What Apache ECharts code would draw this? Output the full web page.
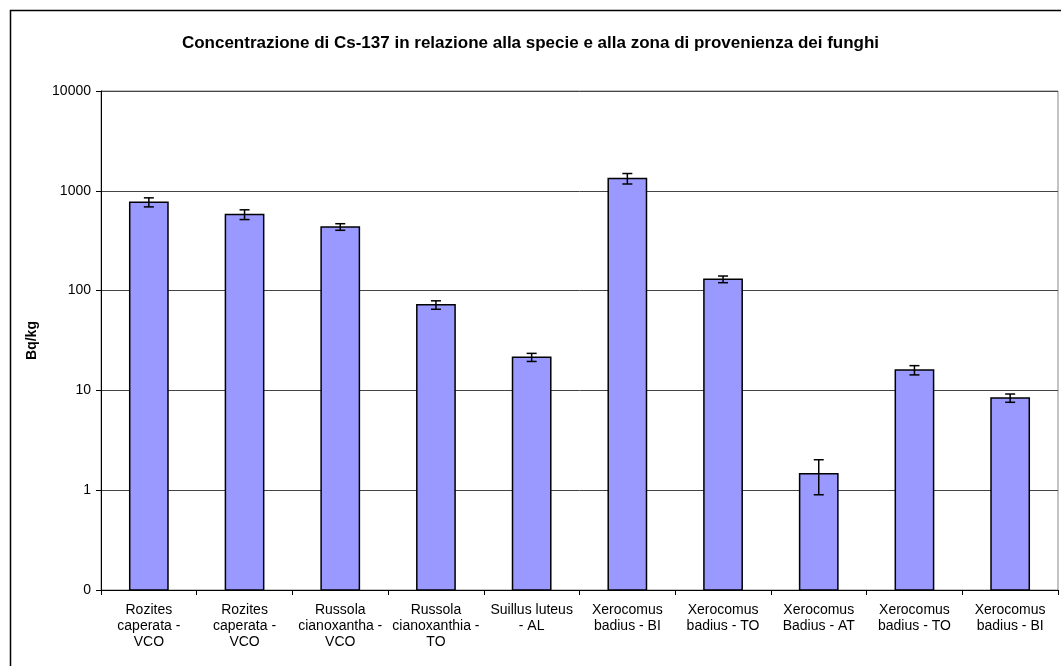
<!DOCTYPE html>
<html>
<head>
<meta charset="utf-8">
<script src="https://cdn.jsdelivr.net/npm/echarts@6/dist/echarts.min.js"></script>
<style>
  html, body { margin: 0; padding: 0; background: #fff; }
  #chart { width: 1061px; height: 666px; }
</style>
</head>
<body>
<div id="chart"></div>
<script>
// categorie (specie - zona)
var categories = [
  "Rozites\ncaperata -\nVCO",
  "Rozites\ncaperata -\nVCO",
  "Russola\ncianoxantha -\nVCO",
  "Russola\ncianoxanthia -\nTO",
  "Suillus luteus\n- AL",
  "Xerocomus\nbadius - BI",
  "Xerocomus\nbadius - TO",
  "Xerocomus\nBadius - AT",
  "Xerocomus\nbadius - TO",
  "Xerocomus\nbadius - BI"
];
// Cs-137 Bq/kg
var values = [770, 580, 435, 72, 21.5, 1330, 130, 1.46, 16, 8.4];
// incertezza (+/-)
var errors = [80, 65, 33, 7, 2, 160, 10, 0.56, 1.7, 0.8];
var yMin = 0.1;
var yMax = 10000;

var barData = values.map(function (v, i) {
  return [i, v];
});
var errData = values.map(function (v, i) {
  return [i, v - errors[i], v + errors[i]];
});

var chart = echarts.init(document.getElementById("chart"));
var font = "Liberation Sans, Arial, sans-serif";

var option = {
  animation: false,
  backgroundColor: "#fff",
  textStyle: { fontFamily: font },
  title: {
    text: "Concentrazione di Cs-137 in relazione alla specie e alla zona di provenienza dei funghi",
    left: "center",
    top: 30,
    textStyle: { fontSize: 17, fontWeight: "bold", color: "#000", fontFamily: font }
  },
  graphic: [
    {
      type: "rect",
      shape: { x: 10.5, y: 10.5, width: 1100, height: 1000 },
      style: { fill: "none", stroke: "#000", lineWidth: 1.5 },
      silent: true
    }
  ],
  grid: {
    left: 101,
    right: 3,
    top: 91,
    bottom: 76,
    show: true,
    borderColor: "#888",
    borderWidth: 1
  },
  xAxis: {
    type: "category",
    data: categories,
    axisLine: { lineStyle: { color: "#000", width: 1 } },
    axisTick: { show: true, length: 5, lineStyle: { color: "#000" } },
    axisLabel: {
      interval: 0,
      margin: 12,
      fontSize: 14,
      lineHeight: 16,
      color: "#000",
      fontFamily: font
    }
  },
  yAxis: {
    type: "log",
    logBase: 10,
    min: yMin,
    max: yMax,
    name: "Bq/kg",
    nameLocation: "middle",
    nameGap: 62,
    nameRotate: 90,
    nameTextStyle: { fontSize: 14, fontWeight: "bold", color: "#000", fontFamily: font },
    axisLine: { show: true, lineStyle: { color: "#000", width: 1 } },
    axisTick: { show: true, length: 5, lineStyle: { color: "#000" } },
    axisLabel: {
      fontSize: 14,
      color: "#000",
      margin: 10,
      fontFamily: font,
      formatter: function (v) {
        return v < 1 ? "0" : String(Math.round(v));
      }
    },
    splitLine: { show: true, lineStyle: { color: "#444", width: 1 } },
    minorTick: { show: false }
  },
  series: [
    {
      // barre dal minimo dell'asse log (0.1)
      type: "custom",
      data: barData,
      z: 5,
      renderItem: function (params, api) {
        var x = api.value(0);
        var top = api.coord([x, api.value(1)]);
        var base = api.coord([x, yMin]);
        var w = api.size([1, 0])[0] * 0.4;
        return {
          type: "rect",
          shape: { x: top[0] - w / 2, y: top[1], width: w, height: base[1] - top[1] },
          style: { fill: "#9999FF", stroke: "#000", lineWidth: 1.5 }
        };
      }
    },
    {
      type: "custom",
      data: errData,
      z: 10,
      renderItem: function (params, api) {
        var x = api.value(0);
        var lo = api.coord([x, api.value(1)]);
        var hi = api.coord([x, api.value(2)]);
        var hw = 5;
        var st = { stroke: "#000", lineWidth: 1.5 };
        return {
          type: "group",
          children: [
            { type: "line", shape: { x1: lo[0], y1: lo[1], x2: hi[0], y2: hi[1] }, style: st },
            { type: "line", shape: { x1: hi[0] - hw, y1: hi[1], x2: hi[0] + hw, y2: hi[1] }, style: st },
            { type: "line", shape: { x1: lo[0] - hw, y1: lo[1], x2: lo[0] + hw, y2: lo[1] }, style: st }
          ]
        };
      }
    }
  ]
};
chart.setOption(option);
</script>
</body>
</html>
